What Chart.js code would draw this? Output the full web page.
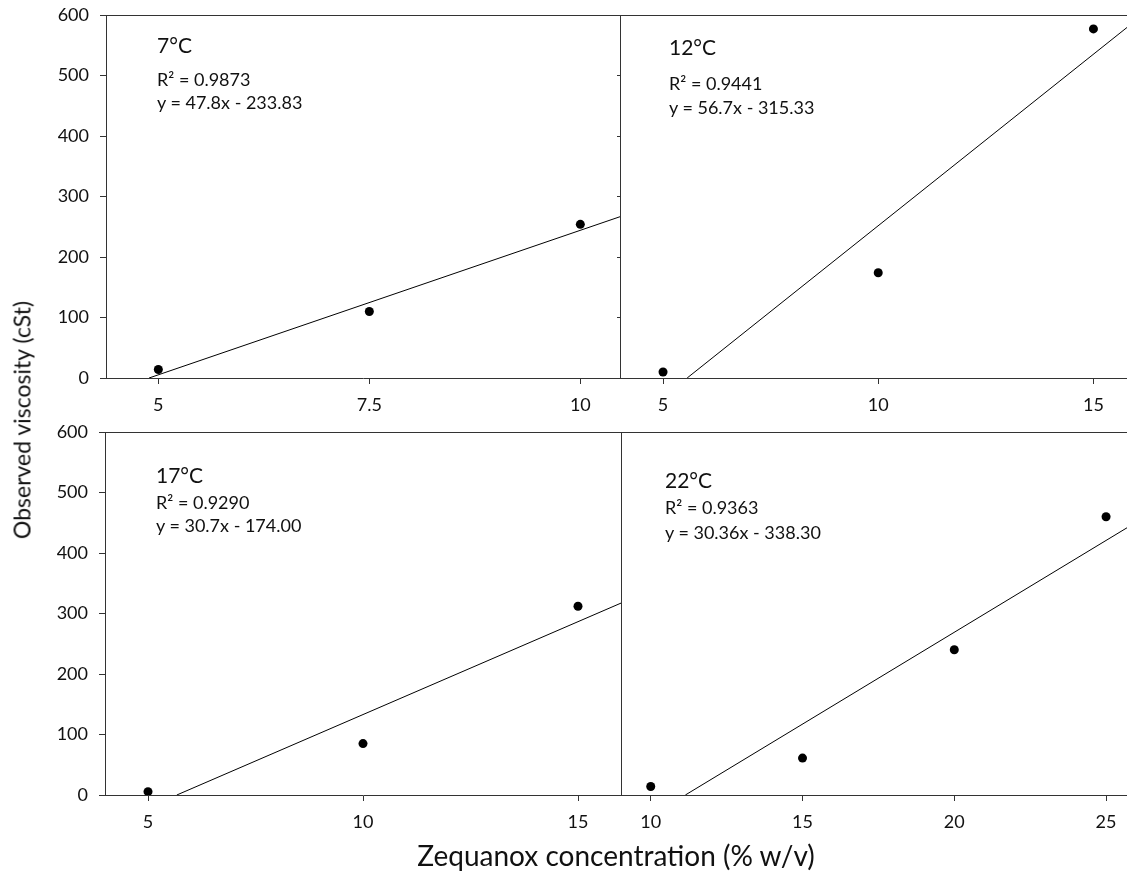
<!DOCTYPE html>
<html>
<head>
<meta charset="utf-8">
<script src="https://cdn.jsdelivr.net/npm/chart.js@4.4.1/dist/chart.umd.min.js"></script>
<style>
  html, body { margin: 0; padding: 0; background: #fff; overflow: hidden; }
  body { width: 1127px; height: 875px; position: relative; font-family: Lato, "Open Sans", sans-serif; color: #111; }
  canvas { position: absolute; }
  .txt { position: absolute; white-space: nowrap; line-height: 1; }
</style>
</head>
<body>
<script>
// ---------- data ----------
const panelTitles = ['7°C', '12°C', '17°C', '22°C'];
const r2Labels = ['R² = 0.9873', 'R² = 0.9441', 'R² = 0.9290', 'R² = 0.9363'];
const equations = ['y = 47.8x - 233.83', 'y = 56.7x - 315.33', 'y = 30.7x - 174.00', 'y = 30.36x - 338.30'];

const yTicks = [0, 100, 200, 300, 400, 500, 600];

const xTicks7 = [5, 7.5, 10];
const xTicks12 = [5, 10, 15];
const xTicks17 = [5, 10, 15];
const xTicks22 = [10, 15, 20, 25];

const conc7 = [5, 7.5, 10];
const visc7 = [14, 110, 254];
const conc12 = [5, 10, 15];
const visc12 = [10, 174, 577];
const conc17 = [5, 10, 15];
const visc17 = [5.5, 85, 312];
const conc22 = [10, 15, 20, 25];
const visc22 = [14, 61, 240, 460];

// fitted-line end points (on the printed equations)
const fitX7 = [4.89, 10.47];   const fitY7 = [0, 266.6];
const fitX12 = [5.56, 15.78];  const fitY12 = [0, 579.4];
const fitX17 = [5.67, 16.0];   const fitY17 = [0, 317.2];
const fitX22 = [11.14, 25.69]; const fitY22 = [0, 441.7];

// axis ranges
const xRange7 = [4.38, 10.47];
const xRange12 = [4.0, 15.78];
const xRange17 = [4.0, 16.0];
const xRange22 = [9.02, 25.69];
const yRange = [0, 600];

// ---------- layout ----------
const AXIS = '#333';
const FONT = 'Lato';
const tickFont = { family: FONT, size: 18 };

const topBorder = {
  id: 'topBorder',
  afterDraw(chart) {
    const { ctx, chartArea: a } = chart;
    ctx.save();
    ctx.strokeStyle = AXIS;
    ctx.lineWidth = 1;
    ctx.beginPath();
    ctx.moveTo(a.left, Math.round(a.top) + 0.5);
    ctx.lineTo(a.right, Math.round(a.top) + 0.5);
    ctx.stroke();
    ctx.restore();
  }
};

function pts(xs, ys) { return xs.map((x, i) => ({ x: x, y: ys[i] })); }

function makePanel(cfg) {
  const c = document.createElement('canvas');
  const w = cfg.yW + (cfg.area.right - cfg.area.left);
  const h = cfg.padTop + (cfg.area.bottom - cfg.area.top) + cfg.xH;
  c.width = w; c.height = h;
  c.style.left = (cfg.area.left - cfg.yW) + 'px';
  c.style.top = (cfg.area.top - cfg.padTop) + 'px';
  c.style.width = w + 'px'; c.style.height = h + 'px';
  document.body.appendChild(c);
  new Chart(c, {
    type: 'scatter',
    data: {
      datasets: [
        {
          data: pts(cfg.fitX, cfg.fitY),
          showLine: true,
          borderColor: '#000',
          borderWidth: 1,
          pointRadius: 0,
          fill: false
        },
        {
          data: pts(cfg.cx, cfg.cy),
          showLine: false,
          pointRadius: 4.5,
          pointBackgroundColor: '#000',
          pointBorderWidth: 0,
          borderColor: '#000'
        }
      ]
    },
    options: {
      responsive: false,
      animation: false,
      devicePixelRatio: 1,
      layout: { autoPadding: false, padding: { top: cfg.padTop, left: 0, right: 0, bottom: 0 } },
      plugins: { legend: { display: false }, tooltip: { enabled: false } },
      scales: {
        x: {
          type: 'linear',
          min: cfg.xRange[0], max: cfg.xRange[1],
          afterBuildTicks: (ax) => { ax.ticks = cfg.xTicks.map(v => ({ value: v })); },
          afterFit: (ax) => { ax.height = cfg.xH; ax.paddingLeft = 0; ax.paddingRight = 0; ax.paddingTop = 0; ax.paddingBottom = 0; },
          grid: { display: true, drawOnChartArea: false, drawTicks: true, tickLength: 6, color: AXIS },
          border: { display: true, color: AXIS, width: 1 },
          ticks: { font: tickFont, color: '#111', padding: 10, maxRotation: 0, autoSkip: false, callback: (v) => String(v) }
        },
        y: {
          type: 'linear',
          min: yRange[0], max: yRange[1],
          afterBuildTicks: (ax) => { ax.ticks = yTicks.map(v => ({ value: v })); },
          afterFit: (ax) => { ax.width = cfg.yW; ax.paddingLeft = 0; ax.paddingRight = 0; ax.paddingTop = 0; ax.paddingBottom = 0; },
          grid: { display: true, drawOnChartArea: false, drawTicks: cfg.yTickLen > 0, tickLength: cfg.yTickLen, color: AXIS },
          border: { display: true, color: AXIS, width: 1 },
          ticks: { display: cfg.yLabels, font: tickFont, color: '#111', padding: 11, autoSkip: false, callback: (v) => String(v) }
        }
      }
    },
    plugins: [topBorder]
  });
}

makePanel({ area: { left: 106, top: 15, right: 620, bottom: 378 }, yW: 100, padTop: 15, xH: 50,
  xRange: xRange7, xTicks: xTicks7, cx: conc7, cy: visc7, fitX: fitX7, fitY: fitY7, yLabels: true, yTickLen: 6 });
makePanel({ area: { left: 620, top: 15, right: 1127, bottom: 378 }, yW: 10, padTop: 15, xH: 50,
  xRange: xRange12, xTicks: xTicks12, cx: conc12, cy: visc12, fitX: fitX12, fitY: fitY12, yLabels: false, yTickLen: 3 });
makePanel({ area: { left: 105, top: 432, right: 621, bottom: 795 }, yW: 100, padTop: 20, xH: 50,
  xRange: xRange17, xTicks: xTicks17, cx: conc17, cy: visc17, fitX: fitX17, fitY: fitY17, yLabels: true, yTickLen: 6 });
makePanel({ area: { left: 621, top: 432, right: 1127, bottom: 795 }, yW: 10, padTop: 20, xH: 50,
  xRange: xRange22, xTicks: xTicks22, cx: conc22, cy: visc22, fitX: fitX22, fitY: fitY22, yLabels: false, yTickLen: 0 });

// ---------- text ----------
function addText(str, left, cy, size) {
  const d = document.createElement('div');
  d.className = 'txt';
  d.textContent = str;
  d.style.fontSize = size + 'px';
  d.style.left = left + 'px';
  d.style.top = (cy - 0.53 * size) + 'px';
  document.body.appendChild(d);
  return d;
}
const labelPos = [
  { x: 157, t: 45, r: 80, e: 103 },
  { x: 669, t: 47, r: 84, e: 108 },
  { x: 156, t: 475, r: 503, e: 526 },
  { x: 665, t: 480, r: 508, e: 533 }
];
labelPos.forEach((p, i) => {
  addText(panelTitles[i], p.x, p.t, 21);
  addText(r2Labels[i], p.x, p.r, 18);
  addText(equations[i], p.x, p.e, 18);
});

const xt = document.createElement('div');
xt.className = 'txt';
xt.textContent = 'Zequanox concentration (% w/v)';
xt.style.fontSize = '28px';
xt.style.left = '616px';
xt.style.top = '855px';
xt.style.transform = 'translate(-50%, -50%)';
document.body.appendChild(xt);

const yt = document.createElement('div');
yt.className = 'txt';
yt.textContent = 'Observed viscosity (cSt)';
yt.style.fontSize = '23px';
yt.style.left = '22px';
yt.style.top = '420px';
yt.style.transform = 'translate(-50%, -50%) rotate(-90deg)';
document.body.appendChild(yt);
</script>
</body>
</html>
